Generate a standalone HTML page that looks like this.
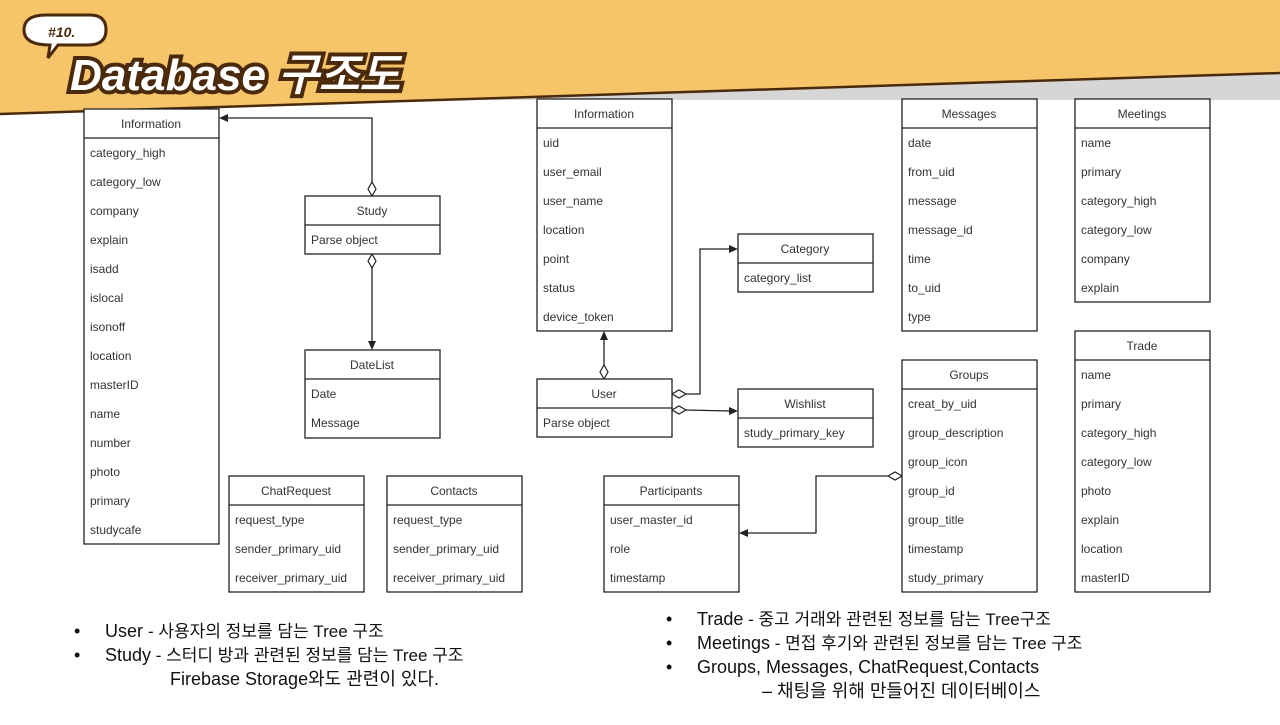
<!DOCTYPE html>
<html><head><meta charset="utf-8"><style>
html,body{margin:0;padding:0;background:#fff;}
svg text{font-family:"Liberation Sans",Arial,sans-serif;}
.h{font-size:12px;fill:#333;text-anchor:middle;}
.r{font-size:12px;fill:#333;}
.b{fill:#fff;stroke:#222;stroke-width:1.3;}
.l{stroke:#222;stroke-width:1.3;fill:none;}
.d{fill:#fff;stroke:#222;stroke-width:1.2;}
.bt{font-family:"Liberation Sans","Noto Sans CJK KR",sans-serif;font-size:18px;fill:#111;}
</style></head><body>
<svg width="1280" height="720" viewBox="0 0 1280 720" xmlns="http://www.w3.org/2000/svg">
<polygon points="0,0 1280,0 1280,73 0,114" fill="#f6c56a"/>
<polygon points="470,99 1280,73 1280,100 470,100" fill="#d6d6d6"/>
<line x1="0" y1="114" x2="1280" y2="73" stroke="#4a2a0a" stroke-width="2.5"/>
<!-- title -->
<path d="M24,30 Q24,15 46,15 L90,15 Q106,15 106,30 Q106,45 88,45 L58,45 L48,58 L50,45 Q24,45 24,30Z" fill="#fff" stroke="#4a2a0a" stroke-width="3"/>
<text x="48" y="37" font-size="14" font-weight="bold" font-style="italic" fill="#4a2a0a">#10.</text>
<text x="70" y="90" textLength="330" lengthAdjust="spacingAndGlyphs" font-family="Liberation Sans,Noto Sans CJK KR,sans-serif" font-size="44" font-weight="bold" font-style="italic" fill="#fff" stroke="#4a2a0a" stroke-width="8" paint-order="stroke">Database 구조도</text>

<!-- connectors -->
<polyline class="l" points="372,182 372,118 226,118"/><polygon points="219,118 228,114 228,122" fill="#222"/>
<polygon class="d" points="372,196 376,189 372,182 368,189"/>
<line class="l" x1="372" y1="268" x2="372" y2="343"/><polygon points="372,350 368,341 376,341" fill="#222"/>
<polygon class="d" points="372,254 376,261 372,268 368,261"/>
<line class="l" x1="604" y1="365" x2="604" y2="339"/><polygon points="604,331 600,340 608,340" fill="#222"/>
<polygon class="d" points="604,379 608,372 604,365 600,372"/>
<polyline class="l" points="686,394 700,394 700,249 730,249"/><polygon points="738,249 729,245 729,253" fill="#222"/>
<polygon class="d" points="672,394 679,390 686,394 679,398"/>
<line class="l" x1="686" y1="410" x2="730" y2="411"/><polygon points="738,411 729,407 729,415" fill="#222"/>
<polygon class="d" points="672,410 679,406 686,410 679,414"/>
<polyline class="l" points="888,476 816,476 816,533 747,533"/><polygon points="739,533 748,529 748,537" fill="#222"/>
<polygon class="d" points="902,476 895,472 888,476 895,480"/>

<!-- Information left -->
<rect class="b" x="84" y="109" width="135" height="435"/><line class="l" x1="84" y1="138" x2="219" y2="138"/>
<text class="h" x="151" y="128">Information</text>
<text class="r" x="90" y="157">category_high</text><text class="r" x="90" y="186">category_low</text><text class="r" x="90" y="215">company</text><text class="r" x="90" y="244">explain</text><text class="r" x="90" y="273">isadd</text><text class="r" x="90" y="302">islocal</text><text class="r" x="90" y="331">isonoff</text><text class="r" x="90" y="360">location</text><text class="r" x="90" y="389">masterID</text><text class="r" x="90" y="418">name</text><text class="r" x="90" y="447">number</text><text class="r" x="90" y="476">photo</text><text class="r" x="90" y="505">primary</text><text class="r" x="90" y="534">studycafe</text>

<!-- Study -->
<rect class="b" x="305" y="196" width="135" height="58"/><line class="l" x1="305" y1="225" x2="440" y2="225"/>
<text class="h" x="372" y="215">Study</text><text class="r" x="311" y="244">Parse object</text>
<!-- DateList -->
<rect class="b" x="305" y="350" width="135" height="88"/><line class="l" x1="305" y1="379" x2="440" y2="379"/>
<text class="h" x="372" y="369">DateList</text><text class="r" x="311" y="398">Date</text><text class="r" x="311" y="427">Message</text>
<!-- ChatRequest -->
<rect class="b" x="229" y="476" width="135" height="116"/><line class="l" x1="229" y1="505" x2="364" y2="505"/>
<text class="h" x="296" y="495">ChatRequest</text><text class="r" x="235" y="524">request_type</text><text class="r" x="235" y="553">sender_primary_uid</text><text class="r" x="235" y="582">receiver_primary_uid</text>
<!-- Contacts -->
<rect class="b" x="387" y="476" width="135" height="116"/><line class="l" x1="387" y1="505" x2="522" y2="505"/>
<text class="h" x="454" y="495">Contacts</text><text class="r" x="393" y="524">request_type</text><text class="r" x="393" y="553">sender_primary_uid</text><text class="r" x="393" y="582">receiver_primary_uid</text>
<!-- Information mid -->
<rect class="b" x="537" y="99" width="135" height="232"/><line class="l" x1="537" y1="128" x2="672" y2="128"/>
<text class="h" x="604" y="118">Information</text>
<text class="r" x="543" y="147">uid</text><text class="r" x="543" y="176">user_email</text><text class="r" x="543" y="205">user_name</text><text class="r" x="543" y="234">location</text><text class="r" x="543" y="263">point</text><text class="r" x="543" y="292">status</text><text class="r" x="543" y="321">device_token</text>
<!-- User -->
<rect class="b" x="537" y="379" width="135" height="58"/><line class="l" x1="537" y1="408" x2="672" y2="408"/>
<text class="h" x="604" y="398">User</text><text class="r" x="543" y="427">Parse object</text>
<!-- Category -->
<rect class="b" x="738" y="234" width="135" height="58"/><line class="l" x1="738" y1="263" x2="873" y2="263"/>
<text class="h" x="805" y="253">Category</text><text class="r" x="744" y="282">category_list</text>
<!-- Wishlist -->
<rect class="b" x="738" y="389" width="135" height="58"/><line class="l" x1="738" y1="418" x2="873" y2="418"/>
<text class="h" x="805" y="408">Wishlist</text><text class="r" x="744" y="437">study_primary_key</text>
<!-- Participants -->
<rect class="b" x="604" y="476" width="135" height="116"/><line class="l" x1="604" y1="505" x2="739" y2="505"/>
<text class="h" x="671" y="495">Participants</text><text class="r" x="610" y="524">user_master_id</text><text class="r" x="610" y="553">role</text><text class="r" x="610" y="582">timestamp</text>
<!-- Messages -->
<rect class="b" x="902" y="99" width="135" height="232"/><line class="l" x1="902" y1="128" x2="1037" y2="128"/>
<text class="h" x="969" y="118">Messages</text>
<text class="r" x="908" y="147">date</text><text class="r" x="908" y="176">from_uid</text><text class="r" x="908" y="205">message</text><text class="r" x="908" y="234">message_id</text><text class="r" x="908" y="263">time</text><text class="r" x="908" y="292">to_uid</text><text class="r" x="908" y="321">type</text>
<!-- Groups -->
<rect class="b" x="902" y="360" width="135" height="232"/><line class="l" x1="902" y1="389" x2="1037" y2="389"/>
<text class="h" x="969" y="379">Groups</text>
<text class="r" x="908" y="408">creat_by_uid</text><text class="r" x="908" y="437">group_description</text><text class="r" x="908" y="466">group_icon</text><text class="r" x="908" y="495">group_id</text><text class="r" x="908" y="524">group_title</text><text class="r" x="908" y="553">timestamp</text><text class="r" x="908" y="582">study_primary</text>
<!-- Meetings -->
<rect class="b" x="1075" y="99" width="135" height="203"/><line class="l" x1="1075" y1="128" x2="1210" y2="128"/>
<text class="h" x="1142" y="118">Meetings</text>
<text class="r" x="1081" y="147">name</text><text class="r" x="1081" y="176">primary</text><text class="r" x="1081" y="205">category_high</text><text class="r" x="1081" y="234">category_low</text><text class="r" x="1081" y="263">company</text><text class="r" x="1081" y="292">explain</text>
<!-- Trade -->
<rect class="b" x="1075" y="331" width="135" height="261"/><line class="l" x1="1075" y1="360" x2="1210" y2="360"/>
<text class="h" x="1142" y="350">Trade</text>
<text class="r" x="1081" y="379">name</text><text class="r" x="1081" y="408">primary</text><text class="r" x="1081" y="437">category_high</text><text class="r" x="1081" y="466">category_low</text><text class="r" x="1081" y="495">photo</text><text class="r" x="1081" y="524">explain</text><text class="r" x="1081" y="553">location</text><text class="r" x="1081" y="582">masterID</text>

<!-- bottom notes -->
<text class="bt" x="74" y="637">•</text><text class="bt" x="105" y="637">User <tspan font-size="17">- 사용자의 정보를 담는 Tree 구조</tspan></text>
<text class="bt" x="74" y="661">•</text><text class="bt" x="105" y="661">Study<tspan font-size="17"> - 스터디 방과 관련된 정보를 담는 Tree 구조</tspan></text>
<text class="bt" x="170" y="685" font-size="17">Firebase Storage와도 관련이 있다.</text>
<text class="bt" x="666" y="625">•</text><text class="bt" x="697" y="625">Trade<tspan font-size="17"> -  중고 거래와 관련된 정보를 담는 Tree구조</tspan></text>
<text class="bt" x="666" y="649">•</text><text class="bt" x="697" y="649">Meetings<tspan font-size="17"> - 면접 후기와 관련된 정보를 담는 Tree 구조</tspan></text>
<text class="bt" x="666" y="673">•</text><text class="bt" x="697" y="673">Groups, Messages, ChatRequest,Contacts</text>
<text class="bt" x="762" y="697" font-size="17">– 채팅을 위해  만들어진 데이터베이스</text>
</svg>
</body></html>
